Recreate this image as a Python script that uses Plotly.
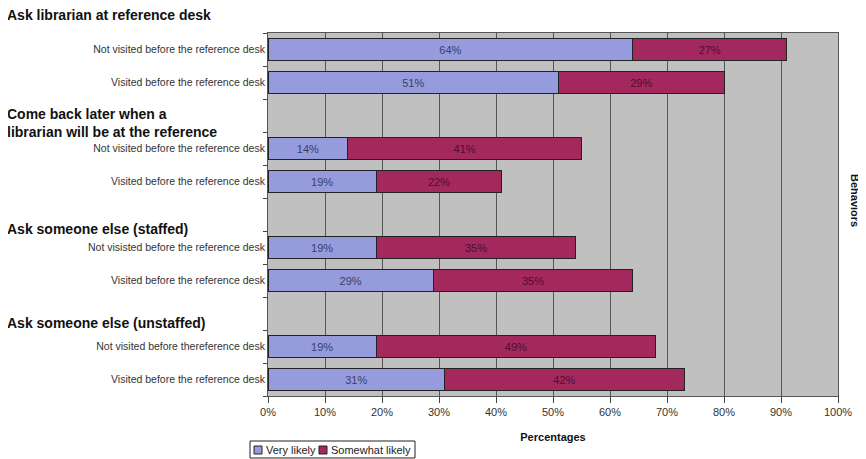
import plotly.graph_objects as go

rows = [0, 1, 3, 4, 6, 7, 9, 10]
row_labels = [
    "Not visited before the reference desk",
    "Visited before the reference desk",
    "Not visited before the reference desk",
    "Visited before the reference desk",
    "Not visisted before the reference desk",
    "Visited before the reference desk",
    "Not visited before thereference desk",
    "Visited before the reference desk",
]
series_names = ["Very likely", "Somewhat likely"]
very_likely = [64, 51, 14, 19, 19, 29, 19, 31]
somewhat_likely = [27, 29, 41, 22, 35, 35, 49, 42]
groups = [
    "Ask librarian at reference desk",
    "Come back later when a<br>librarian will be at the reference",
    "Ask someone else (staffed)",
    "Ask someone else (unstaffed)",
]
x_ticks = list(range(0, 101, 10))

FONT = "Arial, Liberation Sans, sans-serif"
BLUE = "#959bdc"
RED = "#a3285e"

# plot area in page pixels: x 268..838, y 33..396 (page has 8px body margin)
def px(x):
    return (x - 268) / 570

def py(y):
    return (396 - y) / 363

fig = go.Figure()
fig.add_trace(go.Bar(
    y=rows, x=very_likely, orientation="h", name=series_names[0],
    marker=dict(color=BLUE, line=dict(color="#222222", width=1)),
    text=[f"{v}%" for v in very_likely], textposition="inside",
    insidetextanchor="middle",
    textfont=dict(family=FONT, size=11, color="#3a3f66"),
    width=0.66,
))
fig.add_trace(go.Bar(
    y=rows, x=somewhat_likely, orientation="h", name=series_names[1],
    marker=dict(color=RED, line=dict(color="#222222", width=1)),
    text=[f"{v}%" for v in somewhat_likely], textposition="inside",
    insidetextanchor="middle",
    textfont=dict(family=FONT, size=11, color="#4a1030"),
    width=0.66,
))

group_y = [15, 122.5, 229, 323]
for g, gy in zip(groups, group_y):
    fig.add_annotation(
        text=f"<b>{g}</b>", xref="paper", yref="paper", x=px(5), y=py(gy),
        xanchor="left", yanchor="middle", align="left", showarrow=False,
        font=dict(family=FONT, size=14, color="#111111"),
    )

fig.add_annotation(
    text="<b>Behaviors</b>", xref="paper", yref="paper", x=px(855), y=py(200),
    textangle=90, showarrow=False, xanchor="center", yanchor="middle",
    font=dict(family=FONT, size=11, color="#111111"),
)

# legend box (drawn by hand to match the compact original)
fig.add_shape(type="rect", xref="paper", yref="paper",
              x0=px(250), x1=px(415), y0=py(458), y1=py(441),
              line=dict(color="#222222", width=1), fillcolor="white")
for name, color, sx, tx in [(series_names[0], BLUE, 254, 264),
                            (series_names[1], RED, 319, 329)]:
    fig.add_shape(type="rect", xref="paper", yref="paper",
                  x0=px(sx), x1=px(sx + 8), y0=py(454), y1=py(446),
                  line=dict(color="#222222", width=1), fillcolor=color)
    fig.add_annotation(text=name, xref="paper", yref="paper",
                       x=px(tx), y=py(450), xanchor="left", yanchor="middle",
                       showarrow=False,
                       font=dict(family=FONT, size=11, color="#222222"))

fig.update_layout(
    width=858, height=451,
    margin=dict(l=260, r=28, t=25, b=63, autoexpand=False),
    barmode="stack",
    bargap=0.34,
    paper_bgcolor="white",
    plot_bgcolor="#c0c0c0",
    font=dict(family=FONT, size=11, color="#222222"),
    showlegend=False,
    xaxis=dict(
        range=[0, 100], tickvals=x_ticks, ticktext=[f"{v}%" for v in x_ticks],
        showgrid=True, gridcolor="#555555", gridwidth=1,
        ticks="outside", ticklen=6, tickcolor="#444444",
        showline=True, linecolor="#555555", mirror=True,
        zeroline=False, automargin=False,
        title=dict(text="<b>Percentages</b>", standoff=16,
                   font=dict(family=FONT, size=11, color="#111111")),
        tickfont=dict(family=FONT, size=11, color="#333333"),
    ),
    yaxis=dict(
        range=[10.5, -0.5], tickvals=rows, ticktext=row_labels,
        ticks="", showgrid=False, zeroline=False, automargin=False,
        showline=True, linecolor="#555555", mirror=True,
        tickfont=dict(family=FONT, size=10.5, color="#333333"),
        minor=dict(tick0=0.5, dtick=1, ticks="outside", ticklen=4,
                   tickcolor="#444444", showgrid=False),
    ),
)

fig.write_html("out.html")
